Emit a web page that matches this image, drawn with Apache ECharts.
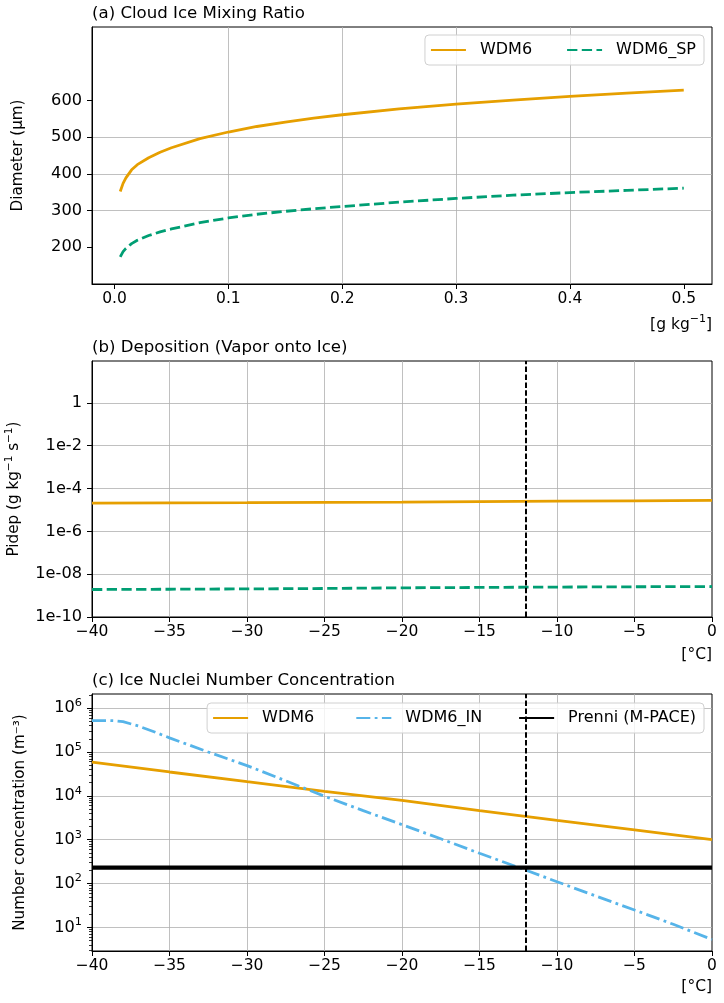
<!DOCTYPE html>
<html><head><meta charset="utf-8">
<script src="https://cdn.jsdelivr.net/npm/echarts@6/dist/echarts.min.js"></script>
<style>html,body{margin:0;padding:0;background:#fff}#c{width:724px;height:1003px}</style>
</head><body><div id="c"></div>
<script>
// ---------- data ----------
// (a) Cloud ice mixing ratio vs diameter
const qIce        = [0.005, 0.0075, 0.01, 0.015, 0.02, 0.03, 0.04, 0.05, 0.075, 0.1, 0.125, 0.15, 0.175, 0.2, 0.25, 0.3, 0.35, 0.4, 0.45, 0.5];
const diamWDM6    = [352, 374, 389, 411, 425, 444, 459, 471, 496, 514, 529, 541, 552, 561, 577, 590, 601, 611, 620, 628];
const diamWDM6SP  = [174, 188, 197, 210, 219, 232, 242, 250, 267, 280, 290, 298, 305, 311, 323, 333, 342, 349, 355, 361];
const xTicksA     = [0, 0.1, 0.2, 0.3, 0.4, 0.5];
const xTickLabelsA = ['0.0', '0.1', '0.2', '0.3', '0.4', '0.5'];
const yTicksA     = [200, 300, 400, 500, 600];

// (b) Deposition
const tempB       = [-40, -35, -30, -25, -20, -15, -10, -5, 0];
const pidepWDM6   = [2.08e-5, 2.15e-5, 2.2e-5, 2.27e-5, 2.33e-5, 2.45e-5, 2.55e-5, 2.65e-5, 2.77e-5];
const pidepWDM6SP = [1.92e-9, 1.98e-9, 2.05e-9, 2.15e-9, 2.3e-9, 2.4e-9, 2.5e-9, 2.58e-9, 2.65e-9];
const yTickLabelsB = { '-10': '1e-10', '-8': '1e-08', '-6': '1e-6', '-4': '1e-4', '-2': '1e-2', '0': '1' };

// (c) Ice nuclei number concentration
const tempC       = [-40, -35, -30, -25, -20, -15, -10, -5, 0];
const inWDM6      = [5.9e4, 3.5e4, 2.1e4, 1.27e4, 7.9e3, 4.6e3, 2.75e3, 1.68e3, 1.0e3];
const tempIN      = [-40, -39, -38.5, -38, -37, -36, -35, -32.5, -30, -27.5, -25, -22.5, -20, -17.5, -15, -12.5, -10, -7.5, -5, -2.5, 0];
const inWDM6IN    = [5.2e5, 5.2e5, 5.15e5, 4.9e5, 3.9e5, 2.9e5, 2.1e5, 1.0e5, 4.9e4, 2.2e4, 9.8e3, 4.6e3, 2.2e3, 1.05e3, 490, 235, 110, 52, 25, 11.8, 5.3];
const tempPrenni  = [-40, 0];
const inPrenni    = [232, 232];
const refTemp     = -12;

// ---------- styling ----------
const F = 'DejaVu Sans';
const ORANGE = '#E69F00', GREEN = '#009E73', BLUE = '#56B4E9';
const zip = (xs, ys) => xs.map((x, i) => [x, ys[i]]);
const axisLine = { show: true, onZero: false, lineStyle: { color: '#000', width: 1 } };
const axisTick = { show: true, length: 5, lineStyle: { color: '#000', width: 1 } };
const splitLine = { show: true, showMinLine: false, showMaxLine: false, lineStyle: { color: '#b0b0b0', width: 0.8 } };
const xLbl = { color: '#000', fontSize: 15.5, fontFamily: F };
const yLbl = { color: '#000', fontSize: 16.2, fontFamily: F };
const supRich = { s: { fontSize: 11.3, fontFamily: F, color: '#000', padding: [0, 0, 10, 0] } };
const nameStyle = { color: '#000', fontSize: 15.2, fontFamily: F, rich: { s: { fontSize: 10.5, fontFamily: F, color: '#000', padding: [0, 0, 9, 0] } } };

const cMin = 2.9, cMax = 2.1e6;
const minorC = [];
for (let n = 0; n <= 6; n++) for (let k = 2; k <= 9; k++) {
  const v = k * Math.pow(10, n);
  if (v >= cMin && v <= cMax) minorC.push(Math.log10(v));
}

const grids = [
  { left: 92, right: 12, top: 27, height: 257 },
  { left: 92, right: 12, top: 361, height: 256 },
  { left: 92, right: 12, top: 694, height: 257 }
].map(g => Object.assign(g, { show: true, borderColor: '#000', borderWidth: 1, backgroundColor: 'transparent',
  containLabel: false, outerBoundsMode: 'none' }));

const titleBase = { padding: 0, textStyle: { fontSize: 16.6, fontWeight: 'normal', color: '#000', fontFamily: F, rich: { s: { fontSize: 11, fontFamily: F, color: '#000', padding: [0, 0, 10, 0] } } } };
const titles = [
  { text: '(a) Cloud Ice Mixing Ratio', left: 92, top: 5 },
  { text: '(b) Deposition (Vapor onto Ice)', left: 92, top: 339 },
  { text: '(c) Ice Nuclei Number Concentration', left: 92, top: 672 },
  { text: '[g kg{s|−1}]', right: 12, top: 314, textStyle: Object.assign({}, titleBase.textStyle, { fontSize: 15.5 }) },
  { text: '[°C]', right: 12, top: 647, textStyle: Object.assign({}, titleBase.textStyle, { fontSize: 15.5 }) },
  { text: '[°C]', right: 12, top: 979, textStyle: Object.assign({}, titleBase.textStyle, { fontSize: 15.5 }) }
].map(t => Object.assign({}, titleBase, t));

const vline = {
  silent: true, symbol: ['none', 'none'], label: { show: false },
  lineStyle: { color: '#000', type: [5.5, 2.4], width: 2 },
  emphasis: { disabled: true },
  data: [{ xAxis: refTemp }]
};

const lineSeries = (name, x, y, xi, yi, color, width, type, extra) => Object.assign({
  name, type: 'line', xAxisIndex: xi, yAxisIndex: yi, data: zip(x, y),
  symbol: 'none', showSymbol: false, smooth: false, animation: false,
  lineStyle: { color, width, type }, itemStyle: { color },
  emphasis: { disabled: true }
}, extra || {});

const legendBase = {
  orient: 'horizontal', itemWidth: 35, itemHeight: 16, itemGap: 34,
  padding: [7, 8, 7, 5], backgroundColor: 'rgba(255,255,255,0.8)',
  borderColor: '#d0d0d0', borderWidth: 1, borderRadius: 4,
  itemStyle: { color: 'rgba(0,0,0,0)', borderWidth: 0, opacity: 0 },
  textStyle: { fontSize: 16, fontFamily: F, color: '#000', padding: [0, 0, 0, 9] },
  selectedMode: false
};

const option = {
  backgroundColor: '#fff',
  animation: false,
  title: titles,
  grid: grids,
  legend: [
    Object.assign({}, legendBase, { right: 20, top: 35, data: ['WDM6', 'WDM6_SP'] }),
    Object.assign({}, legendBase, { right: 20, top: 703, itemGap: 36, data: ['WDM6 ', 'WDM6_IN', 'Prenni (M-PACE)'] })
  ],
  xAxis: [
    { type: 'value', gridIndex: 0, min: -0.0198, max: 0.5248,
      axisLine, axisTick: Object.assign({}, axisTick, { customValues: xTicksA }), splitLine,
      axisLabel: Object.assign({}, xLbl, { margin: 7, customValues: xTicksA,
        formatter: v => xTickLabelsA[xTicksA.findIndex(t => Math.abs(t - v) < 1e-9)] || '' }) },
    { type: 'value', gridIndex: 1, min: -40, max: 0, interval: 5,
      axisLine, axisTick, splitLine,
      axisLabel: Object.assign({}, xLbl, { margin: 7, formatter: v => v < 0 ? '−' + Math.abs(v) : String(v) }) },
    { type: 'value', gridIndex: 2, min: -40, max: 0, interval: 5,
      axisLine, axisTick, splitLine,
      axisLabel: Object.assign({}, xLbl, { margin: 7, formatter: v => v < 0 ? '−' + Math.abs(v) : String(v) }) }
  ],
  yAxis: [
    { type: 'value', gridIndex: 0, min: 100, max: 800, position: 'left',
      name: 'Diameter (μm)', nameLocation: 'middle', nameGap: 66, nameTextStyle: nameStyle,
      axisLine, axisTick: Object.assign({}, axisTick, { customValues: yTicksA }), splitLine,
      axisLabel: Object.assign({}, yLbl, { margin: 10, customValues: yTicksA }) },
    { type: 'log', logBase: 10, gridIndex: 1, min: 1e-10, max: 90, interval: 2, position: 'left',
      name: 'Pidep (g kg{s|−1} s{s|−1})', nameLocation: 'middle', nameGap: 68, nameTextStyle: nameStyle,
      axisLine, axisTick, splitLine,
      axisLabel: Object.assign({}, yLbl, { margin: 10, showMaxLabel: false,
        formatter: v => { const e = Math.log10(v); if (Math.abs(e - Math.round(e)) > 1e-6) return ''; return yTickLabelsB[String(Math.round(e))] || ''; } }) },
    { type: 'log', logBase: 10, gridIndex: 2, min: cMin, max: cMax, position: 'left',
      name: 'Number concentration (m⁻³)', nameLocation: 'middle', nameGap: 64, nameTextStyle: nameStyle,
      axisLine, axisTick, splitLine,
      axisLabel: Object.assign({}, yLbl, { margin: 10, showMinLabel: false, showMaxLabel: false, rich: supRich,
        formatter: v => { const e = Math.log10(v); if (Math.abs(e - Math.round(e)) > 1e-6) return ''; return '10{s|' + Math.round(e) + '}'; } }) },
    { type: 'value', gridIndex: 2, min: Math.log10(cMin), max: Math.log10(cMax), position: 'left', offset: 0,
      axisLine: { show: false, onZero: false }, splitLine: { show: false }, axisLabel: { show: false },
      axisTick: { show: true, length: 3, lineStyle: { color: '#000', width: 0.8 }, customValues: minorC } }
  ],
  series: [
    lineSeries('WDM6', qIce, diamWDM6, 0, 0, ORANGE, 2.8, 'solid'),
    lineSeries('WDM6_SP', qIce, diamWDM6SP, 0, 0, GREEN, 2.8, [10.3, 4.4]),
    lineSeries('WDM6', tempB, pidepWDM6, 1, 1, ORANGE, 2.8, 'solid'),
    lineSeries('WDM6_SP', tempB, pidepWDM6SP, 1, 1, GREEN, 2.8, [10.3, 4.4], { markLine: vline }),
    lineSeries('WDM6 ', tempC, inWDM6, 2, 2, ORANGE, 2.8, 'solid'),
    lineSeries('WDM6_IN', tempIN, inWDM6IN, 2, 2, BLUE, 2.8, [14, 4.4, 2.8, 4.4]),
    lineSeries('Prenni (M-PACE)', tempPrenni, inPrenni, 2, 2, '#000', 4.2, 'solid', { markLine: vline })
  ]
};

const chart = echarts.init(document.getElementById('c'), null, { renderer: 'canvas' });
chart.setOption(option);
</script>
</body></html>
